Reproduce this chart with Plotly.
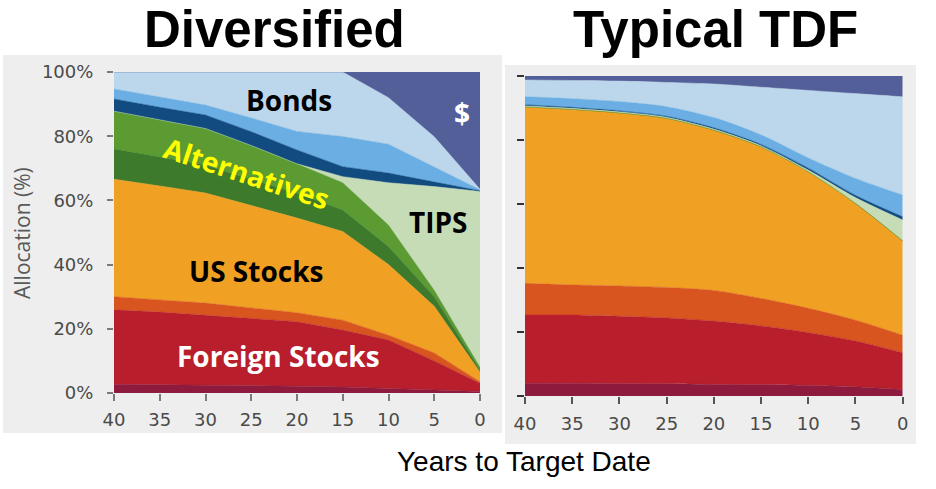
import plotly.graph_objects as go

# ---------------- data ----------------
years = [40, 35, 30, 25, 20, 15, 10, 5, 0]
year_ticks = [40, 35, 30, 25, 20, 15, 10, 5, 0]
pct_ticks = [0, 20, 40, 60, 80, 100]
pct_labels = ["0%", "20%", "40%", "60%", "80%", "100%"]

layer_names = ["Foreign Stocks (EM)", "Foreign Stocks", "Foreign Small", "US Stocks",
               "Alternatives (A)", "Alternatives (B)", "TIPS", "Bonds (ST)",
               "Bonds (Int)", "Bonds", "$"]
layer_colors = ["#8e1a3d", "#b81e2c", "#d9551f", "#f0a023", "#3e7a2b", "#5b9b32",
                "#c5dcb6", "#114b7f", "#6aaee3", "#bcd7eb", "#535f99"]

# Diversified glide path (allocation %, per layer)
div_maroon = [2.7, 2.6, 2.5, 2.3, 2.1, 1.9, 1.5, 1.0, 0.5]
div_red = [23.2, 22.6, 21.8, 20.9, 20.1, 17.7, 15.0, 9.0, 2.5]
div_orangered = [4.1, 3.8, 3.7, 3.3, 2.8, 3.1, 1.5, 2.5, 0.5]
div_us = [36.6, 35.5, 34.3, 32.0, 29.5, 27.6, 22.0, 14.5, 3.0]
div_dkgreen = [9.4, 9.0, 8.7, 8.0, 7.8, 6.7, 5.6, 3.0, 0.7]
div_green = [11.8, 11.5, 11.4, 10.6, 9.1, 8.5, 6.7, 2.0, 0.8]
div_tips = [0, 0, 0, 0, 0, 1.9, 13.2, 32.3, 54.8]
div_navy = [3.8, 4.0, 4.2, 4.3, 4.3, 3.1, 3.0, 1.5, 0.2]
div_medblue = [3.1, 3.2, 3.1, 4.3, 5.8, 9.4, 9.0, 4.7, 0.3]
div_ltblue = [5.3, 7.8, 10.3, 14.3, 18.5, 20.1, 14.5, 9.3, 0.2]
div_cash = [0, 0, 0, 0, 0, 0, 8.0, 20.2, 36.5]

# Typical TDF glide path
tdf_maroon = [4.0, 4.0, 3.9, 3.8, 3.6, 3.5, 3.3, 2.9, 2.0]
tdf_red = [21.3, 21.3, 21.0, 20.6, 19.8, 18.4, 16.5, 14.3, 11.5]
tdf_orangered = [9.9, 9.4, 9.5, 9.5, 9.6, 8.6, 7.6, 6.5, 5.5]
tdf_us = [55.2, 54.9, 54.1, 52.9, 50.1, 47.4, 42.7, 36.5, 29.5]
tdf_dkgreen = [0, 0, 0, 0, 0, 0, 0, 0, 0]
tdf_green = [0, 0, 0, 0, 0, 0, 0, 0, 0]
tdf_tips = [0.3, 0.3, 0.3, 0.3, 0.3, 0.3, 0.5, 1.8, 6.5]
tdf_navy = [0.3, 0.3, 0.3, 0.3, 0.4, 0.4, 0.6, 0.7, 1.0]
tdf_medblue = [2.5, 2.7, 2.9, 3.0, 3.2, 3.0, 3.2, 5.3, 6.8]
tdf_ltblue = [5.25, 5.7, 6.4, 7.6, 10.5, 14.9, 21.1, 26.5, 30.7]
tdf_cash = [1.25, 1.4, 1.6, 2.0, 2.5, 3.5, 4.5, 5.5, 6.5]

div_layers = [div_maroon, div_red, div_orangered, div_us, div_dkgreen, div_green,
              div_tips, div_navy, div_medblue, div_ltblue, div_cash]
tdf_layers = [tdf_maroon, tdf_red, tdf_orangered, tdf_us, tdf_dkgreen, tdf_green,
              tdf_tips, tdf_navy, tdf_medblue, tdf_ltblue, tdf_cash]

# ---------------- figure ----------------
W, H = 936, 489
def px(x):
    return x / W
def py(y):
    return 1 - y / H

fig = go.Figure()

for name, col, vals in zip(layer_names, layer_colors, div_layers):
    fig.add_trace(go.Scatter(x=years, y=vals, name=name, stackgroup="div",
                             mode="lines", line=dict(width=0.5, color=col),
                             fillcolor=col, xaxis="x", yaxis="y",
                             showlegend=False, hoverinfo="skip"))

for name, col, vals in zip(layer_names, layer_colors, tdf_layers):
    fig.add_trace(go.Scatter(x=years, y=vals, name=name, stackgroup="tdf",
                             mode="lines", line=dict(width=0.5, color=col, shape="spline", smoothing=0.8),
                             fillcolor=col, xaxis="x2", yaxis="y2",
                             showlegend=False, hoverinfo="skip"))

tickfont = dict(family="DejaVu Sans", size=18, color="#4a4a4a")

fig.update_layout(
    width=W, height=H,
    margin=dict(l=0, r=0, t=0, b=0, autoexpand=False),
    paper_bgcolor="white",
    plot_bgcolor="rgba(0,0,0,0)",
    xaxis=dict(domain=[px(114), px(480)], range=[40, 0], tickvals=year_ticks,
               ticks="outside", ticklen=7, tickcolor="#7a7a7a", tickwidth=1.5,
               tickfont=tickfont, showgrid=False, zeroline=False, showline=False,
               anchor="y", ticklabelstandoff=3, fixedrange=True, automargin=False),
    yaxis=dict(domain=[py(393), py(72)], range=[0, 100], tickvals=pct_ticks,
               ticktext=pct_labels, ticks="outside", ticklen=6, tickcolor="#7a7a7a",
               tickwidth=1.5, tickfont=tickfont, showgrid=False, zeroline=False,
               showline=False, anchor="x", ticklabelstandoff=10, fixedrange=True,
               automargin=False),
    xaxis2=dict(domain=[px(525), px(902.7)], range=[40, 0], tickvals=year_ticks,
                ticks="outside", ticklen=7, tickcolor="#555555", tickwidth=1.5,
                tickfont=tickfont, showgrid=False, zeroline=False, showline=False,
                anchor="y2", ticklabelstandoff=4, fixedrange=True, automargin=False),
    yaxis2=dict(domain=[py(396), py(76)], range=[0, 100], tickvals=pct_ticks,
                ticks="outside", ticklen=7, tickcolor="#333333", tickwidth=1.5,
                showticklabels=False, showgrid=False, zeroline=False,
                showline=False, anchor="x2", fixedrange=True, automargin=False),
    shapes=[
        dict(type="rect", xref="paper", yref="paper", x0=px(3), x1=px(502),
             y0=py(433), y1=py(55), fillcolor="#eeeeee", line=dict(width=0), layer="below"),
        dict(type="rect", xref="paper", yref="paper", x0=px(505), x1=px(916),
             y0=py(444), y1=py(65), fillcolor="#eeeeee", line=dict(width=0), layer="below"),
    ],
)

def ann(text, x, y, size, color, family="Open Sans", angle=0):
    fig.add_annotation(text=text, x=px(x), y=py(y), xref="paper", yref="paper",
                       showarrow=False, xanchor="center", yanchor="middle",
                       textangle=angle, font=dict(family=family, size=size, color=color))

ann("<b>Diversified</b>", 274, 30, 51, "black", family="Liberation Sans")
ann("<b>Typical TDF</b>", 715, 30, 51, "black", family="Liberation Sans")
ann("Years to Target Date", 524, 461, 28, "black", family="Liberation Sans")
ann("Allocation (%)", 22, 233, 21, "#595959", family="Open Sans", angle=-90)

ann("<b>Bonds</b>", 289, 100, 28, "black")
ann("<b>$</b>", 462, 113, 28, "white")
ann("<b>Alternatives</b>", 247, 173, 28, "#ffff00", angle=18)
ann("<b>TIPS</b>", 438, 222, 28, "black")
ann("<b>US Stocks</b>", 256, 271, 28, "black")
ann("<b>Foreign Stocks</b>", 278, 356, 28, "white")

fig.write_html("out.html", config={"displayModeBar": False},
               post_script="document.body.style.margin='0px';")
